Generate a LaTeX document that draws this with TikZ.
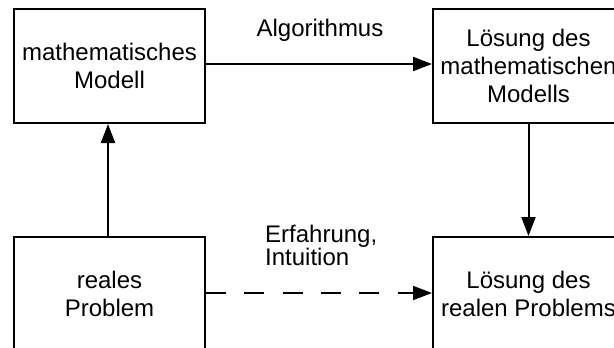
\documentclass[tikz,border=0pt]{standalone}
\usepackage{fontspec}
\setmainfont{Liberation Sans}
\usetikzlibrary{arrows.meta}

\begin{document}
\begin{tikzpicture}[x=1pt, y=-1pt,
  every node/.style={font=\fontsize{24}{28.3}\selectfont},
  stage/.style={draw, line width=2pt, rectangle, minimum width=191pt,
    minimum height=114pt, inner sep=0pt, align=center},
  flow/.style={line width=2pt, -{Triangle[length=19pt, width=14pt]}},
  guess/.style={flow, dash pattern=on 20pt off 18.3pt},
  caption/.style={inner sep=0pt}]
  \useasboundingbox (0,0) rectangle (614,348);
  \clip (0,0) rectangle (614,348);

  % the four stages
  \node[stage] (model)   at (109.5,66)  {mathematisches\\Modell};
  \node[stage] (msol)    at (528.5,66)  {Lösung des\\mathematischen\\Modells};
  \node[stage] (real)    at (109.5,294) {reales\\Problem};
  \node[stage] (rsol)    at (528.5,294) {Lösung des\\realen Problems};

  % transitions between the stages
  \draw[flow] ([xshift=-1.5pt]real.north) -- ([xshift=-1.5pt]model.south);
  \draw[flow] ([yshift=2pt]model.east) -- ([yshift=2pt]msol.west);
  \draw[flow] (msol.south) -- (rsol.north);
  \draw[guess] ([yshift=1pt]real.east) -- ([yshift=1pt]rsol.west);

  % labels of the transitions (base anchor sits on the last line)
  \node[caption, anchor=base] (alg) at (320,37) {Algorithmus};
  \node[caption, anchor=base west, align=left,
        font=\fontsize{24}{23}\selectfont] (exp) at (265,265)
        {Erfahrung,\\Intuition};
\end{tikzpicture}
\end{document}
